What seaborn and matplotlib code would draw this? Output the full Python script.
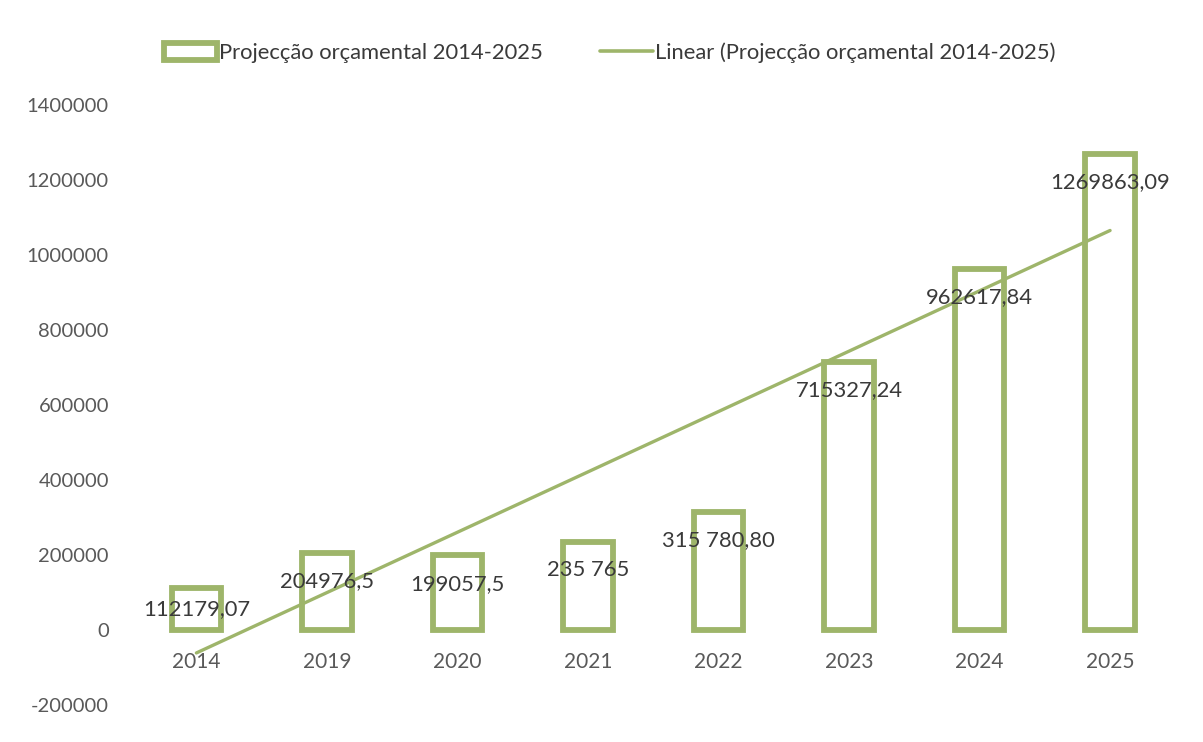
import numpy as np
import matplotlib
matplotlib.use("Agg")
import matplotlib.pyplot as plt
from matplotlib.patches import Patch
from matplotlib.lines import Line2D
from matplotlib.ticker import FuncFormatter
import seaborn as sns

# Dados
anos = ["2014", "2019", "2020", "2021", "2022", "2023", "2024", "2025"]
valores = [112179.07, 204976.5, 199057.5, 235765, 315780.80, 715327.24, 962617.84, 1269863.09]
rotulos = ["112179,07", "204976,5", "199057,5", "235 765", "315 780,80",
           "715327,24", "962617,84", "1269863,09"]
serie = "Projecção orçamental 2014-2025"
tendencia = "Linear (Projecção orçamental 2014-2025)"

verde = "#9EB56A"
cinza = "#595959"

sns.set_theme(style="white")
plt.rcParams["font.family"] = ["Lato", "DejaVu Sans"]

fig = plt.figure(figsize=(12.03, 7.42), dpi=100)
ax = fig.add_axes([0.109, 0.05, 0.868, 0.8085])

sns.barplot(x=anos, y=valores, fill=False, color=verde, linewidth=4.2,
            width=0.38, ax=ax)

# linha de tendência linear
sns.regplot(x=np.arange(len(anos)), y=np.array(valores), scatter=False, ci=None,
            truncate=True, color=verde, line_kws={"linewidth": 2.4}, ax=ax)

# rótulos dentro das barras
for i, (v, r) in enumerate(zip(valores, rotulos)):
    y = max(v - 76000, v / 2)
    ax.text(i, y, r, ha="center", va="center", fontsize=15.8, color="#3a3a3a")

ax.set_ylim(-200000, 1400000)
ax.set_xlim(-0.5, len(anos) - 0.5)
ax.set_yticks(np.arange(-200000, 1400001, 200000))
ax.yaxis.set_major_formatter(FuncFormatter(lambda v, p: f"{v:.0f}"))
ax.spines["bottom"].set_position(("data", 0))
for s in ax.spines.values():
    s.set_visible(False)
ax.tick_params(axis="both", length=0, labelsize=14.5, labelcolor=cinza)
ax.tick_params(axis="x", pad=16, labelsize=15)
ax.tick_params(axis="y", pad=16)
ax.set_xlabel("")
ax.set_ylabel("")
ax.grid(False)

handles = [Patch(facecolor="white", edgecolor=verde, linewidth=4.2, label=serie),
           Line2D([0], [0], color=verde, linewidth=2.6, label=tendencia)]
fig.legend(handles=handles, loc="center", bbox_to_anchor=(0.507, 0.929), ncol=2,
           frameon=False, fontsize=15.8, handlelength=2.4, handleheight=0.8,
           handletextpad=0.1, columnspacing=2.6, labelcolor="#3a3a3a")

fig.savefig("out.png", dpi=100, facecolor="white")
